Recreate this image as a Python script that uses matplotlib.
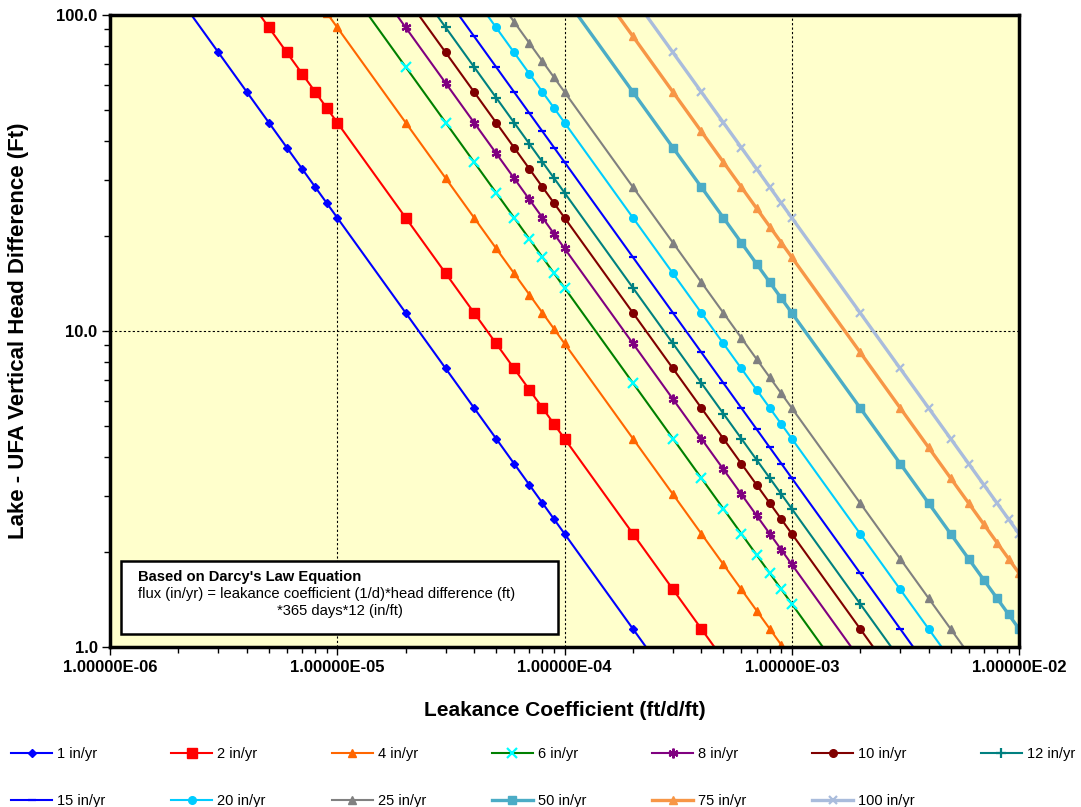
import matplotlib
matplotlib.use("Agg")
import matplotlib.pyplot as plt
from matplotlib.patches import Rectangle
from matplotlib.ticker import FixedLocator, FuncFormatter, NullFormatter, LogLocator
import numpy as np

plt.rcParams['font.family'] = ['Liberation Sans', 'DejaVu Sans']

# Data: leakance coefficients (ft/d/ft) sampled at 1..9 x each decade
leakance = [m * 10.0 ** e for e in range(-6, -2) for m in range(1, 10)] + [1e-2]
# flux rates (in/yr) of each series
flux_rates = [1, 2, 4, 6, 8, 10, 12, 15, 20, 25, 50, 75, 100]
labels = [f"{r} in/yr" for r in flux_rates]
DAYS_PER_YEAR = 365
IN_PER_FT = 12

line_colors = ['#0000FF', '#FF0000', '#FF6600', '#008000', '#800080', '#800000',
               '#008080', '#0000FF', '#00CCFF', '#808080', '#4BACC6', '#F79646', '#A9BCDC']
marker_colors = ['#0000FF', '#FF0000', '#FF6600', '#00FFFF', '#800080', '#800000',
                 '#008080', '#0000FF', '#00CCFF', '#808080', '#4BACC6', '#F79646', '#A9BCDC']
markers = ['D', 's', '^', 'x', (6, 2, 0), 'o', '+', '_', 'o', '^', 's', '^', 'x']
msizes = [4, 6.5, 5.5, 7, 7, 5.5, 7.5, 6, 5.5, 5.5, 6, 6, 6]
lwidths = [1.5, 1.5, 1.5, 1.5, 1.5, 1.5, 1.5, 1.5, 1.5, 1.5, 2.4, 2.4, 2.4]

fig = plt.figure(figsize=(10.81, 8.07), dpi=100)
ax = fig.add_axes([110/1081, 1-647/807, 909/1081, 632/807])
ax.set_facecolor('#FFFFCC')

K = np.array(leakance)
handles = []
for i, r in enumerate(flux_rates):
    head = r / (K * DAYS_PER_YEAR * IN_PER_FT)
    h, = ax.plot(K, head, color=line_colors[i], lw=lwidths[i], marker=markers[i],
                 ms=msizes[i], mfc=marker_colors[i], mec=marker_colors[i],
                 mew=1.6 if markers[i] in ('x', '+', '_') or isinstance(markers[i], tuple) else 1,
                 label=labels[i], zorder=3)
    handles.append(h)

ax.set_xscale('log')
ax.set_yscale('log')
ax.set_xlim(1e-6, 1e-2)
ax.set_ylim(1, 100)

ax.xaxis.set_major_locator(FixedLocator([1e-6, 1e-5, 1e-4, 1e-3, 1e-2]))
ax.xaxis.set_minor_locator(LogLocator(base=10, subs=np.arange(2, 10)))
ax.xaxis.set_minor_formatter(NullFormatter())
ax.xaxis.set_major_formatter(FuncFormatter(lambda v, p: f"{v:.5E}"))
ax.yaxis.set_major_locator(FixedLocator([1, 10, 100]))
ax.yaxis.set_minor_locator(LogLocator(base=10, subs=np.arange(2, 10)))
ax.yaxis.set_minor_formatter(NullFormatter())
ax.yaxis.set_major_formatter(FuncFormatter(lambda v, p: f"{v:.1f}"))

ax.tick_params(axis='both', which='major', length=6, width=1, direction='out',
               labelsize=12, pad=3)
ax.tick_params(axis='both', which='minor', length=4, width=1, direction='out')
for lab in ax.get_xticklabels() + ax.get_yticklabels():
    lab.set_fontweight('bold')

ax.grid(True, which='major', color='black', linestyle=(0, (2, 2)), linewidth=0.8, zorder=1)
for s in ax.spines.values():
    s.set_linewidth(2.5)
    s.set_zorder(5)

ax.set_xlabel('Leakance Coefficient (ft/d/ft)', fontsize=15, fontweight='bold')
ax.set_ylabel('Lake - UFA Vertical Head Difference (Ft)', fontsize=16, fontweight='bold')
ax.xaxis.set_label_coords(0.5, -0.085)
ax.yaxis.set_label_coords(-0.089, 0.5)

# Text box
bx0, bx1 = (121-110)/909, (558-110)/909
by0, by1 = (647-634)/632, (647-561)/632
ax.add_patch(Rectangle((bx0, by0), bx1-bx0, by1-by0, transform=ax.transAxes,
                       facecolor='white', edgecolor='black', lw=1.8, zorder=6))
ax.text((138-110)/909, (647-577)/632, "Based on Darcy's Law Equation", transform=ax.transAxes,
        fontsize=10.6, fontweight='bold', va='center', ha='left', zorder=7)
ax.text((138-110)/909, (647-594)/632, "flux (in/yr) = leakance coefficient (1/d)*head difference (ft)",
        transform=ax.transAxes, fontsize=10.6, va='center', ha='left', zorder=7)
ax.text((340-110)/909, (647-611)/632, "*365 days*12 (in/ft)", transform=ax.transAxes,
        fontsize=10.6, va='center', ha='center', zorder=7)

# Legend (column-major filling -> reorder for row layout)
order = [0, 7, 1, 8, 2, 9, 3, 10, 4, 11, 5, 12, 6]
fig.legend([handles[i] for i in order], [labels[i] for i in order],
           loc='upper left', bbox_to_anchor=(0.005, 0.0, 0.995, 0.081), mode='expand',
           ncol=7, frameon=False, fontsize=10.5, handlelength=2.8, handletextpad=0.35,
           labelspacing=2.25, borderaxespad=0)

fig.savefig('out.png', dpi=100, facecolor='white')
